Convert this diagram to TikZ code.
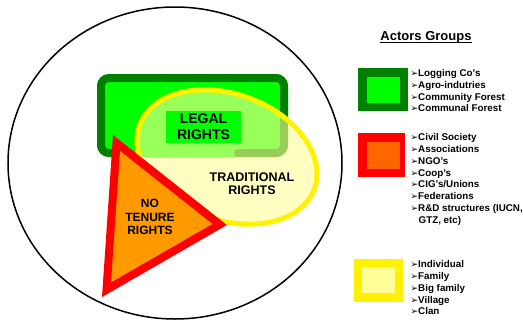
\documentclass[tikz,border=0pt]{standalone}
\usepackage{fontspec}
\setmainfont{Liberation Sans}
\newfontfamily\symfont{DejaVu Sans}
\usepackage{xcolor}
\usepackage{tikz}
\usetikzlibrary{calc}

\definecolor{darkgreen}{RGB}{0,128,0}
\definecolor{lightgreen}{RGB}{0,255,0}
\definecolor{triorange}{RGB}{255,153,0}
\definecolor{boxorange}{RGB}{255,102,0}
\definecolor{paleyellow}{RGB}{255,255,153}

\newcommand{\arr}{{\symfont\fontsize{9}{9}\selectfont ➢}}

\begin{document}
\begin{tikzpicture}[x=1pt,y=1pt,
	rights/.style={font=\bfseries\fontsize{12}{13.7}\selectfont, align=center, inner sep=0pt},
	items/.style={font=\bfseries\fontsize{9.8}{11.7}\selectfont, align=left, anchor=north west, inner sep=0pt}]
	\useasboundingbox (0,0) rectangle (523,-322);
	% outer circle
	\draw[line width=1.5pt] (175,-163) ellipse [x radius=167, y radius=156];
	% legal rights
	\fill[lightgreen, rounded corners=12pt] (97,-74) rectangle (288,-157);
	\draw[darkgreen, line width=8pt, rounded corners=8pt, line cap=round] (238,-153) -| (284,-78) -| (101,-153) -- (118,-153);
	% traditional rights
	\draw[yellow, line width=5pt, fill=paleyellow, fill opacity=0.6, rotate around={-20:(227,-157)}] (227,-157) ellipse [x radius=93, y radius=63];
	\node[rights, fill=lightgreen, minimum width=75pt, minimum height=32pt, font=\bfseries\fontsize{14}{15.7}\selectfont] (legal) at (203.5,-127) {LEGAL\\RIGHTS};
	% no tenure rights
	\draw[red, line width=8pt, fill=triorange, line join=miter] (116.5,-142.9) -- (219.8,-224.5) -- (106.5,-289.8) -- cycle;
	\node[rights] (notenure) at (150,-217) {NO\\TENURE\\RIGHTS};
	\node[rights, font=\bfseries\fontsize{12.5}{13.5}\selectfont] (traditional) at (252,-183.5) {TRADITIONAL\\RIGHTS};
	% legend
	\node[font=\bfseries\fontsize{13}{15}\selectfont, inner sep=0pt] (title) at (426,-37.7) {Actors Groups};
	\draw[line width=1pt] ([yshift=-2pt]title.base west) -- ([yshift=-2pt]title.base east);
	\fill[darkgreen] (358,-68) rectangle (408,-111);
	\fill[lightgreen] (367,-77) rectangle (400,-103);
	\node[items] (greenlist) at (410.5,-69.5) {\arr Logging Co's\\\arr Agro-indutries\\\arr Community Forest\\\arr Communal Forest};
	\fill[red] (358,-133) rectangle (405,-177);
	\fill[boxorange] (367,-142) rectangle (400,-169);
	\node[items] (redlist) at (410.5,-133.6) {\arr Civil Society\\\arr Associations\\\arr NGO's\\\arr Coop's\\\arr CIG's/Unions\\\arr Federations\\\arr R\&D structures (IUCN,\\[1pt]\hspace*{8pt}GTZ, etc)};
	\fill[yellow] (354,-259) rectangle (403,-302);
	\fill[paleyellow] (362,-267) rectangle (395,-293);
	\node[items] (yellowlist) at (410.5,-260.6) {\arr Individual\\\arr Family\\\arr Big family\\\arr Village\\\arr Clan};
\end{tikzpicture}
\end{document}
